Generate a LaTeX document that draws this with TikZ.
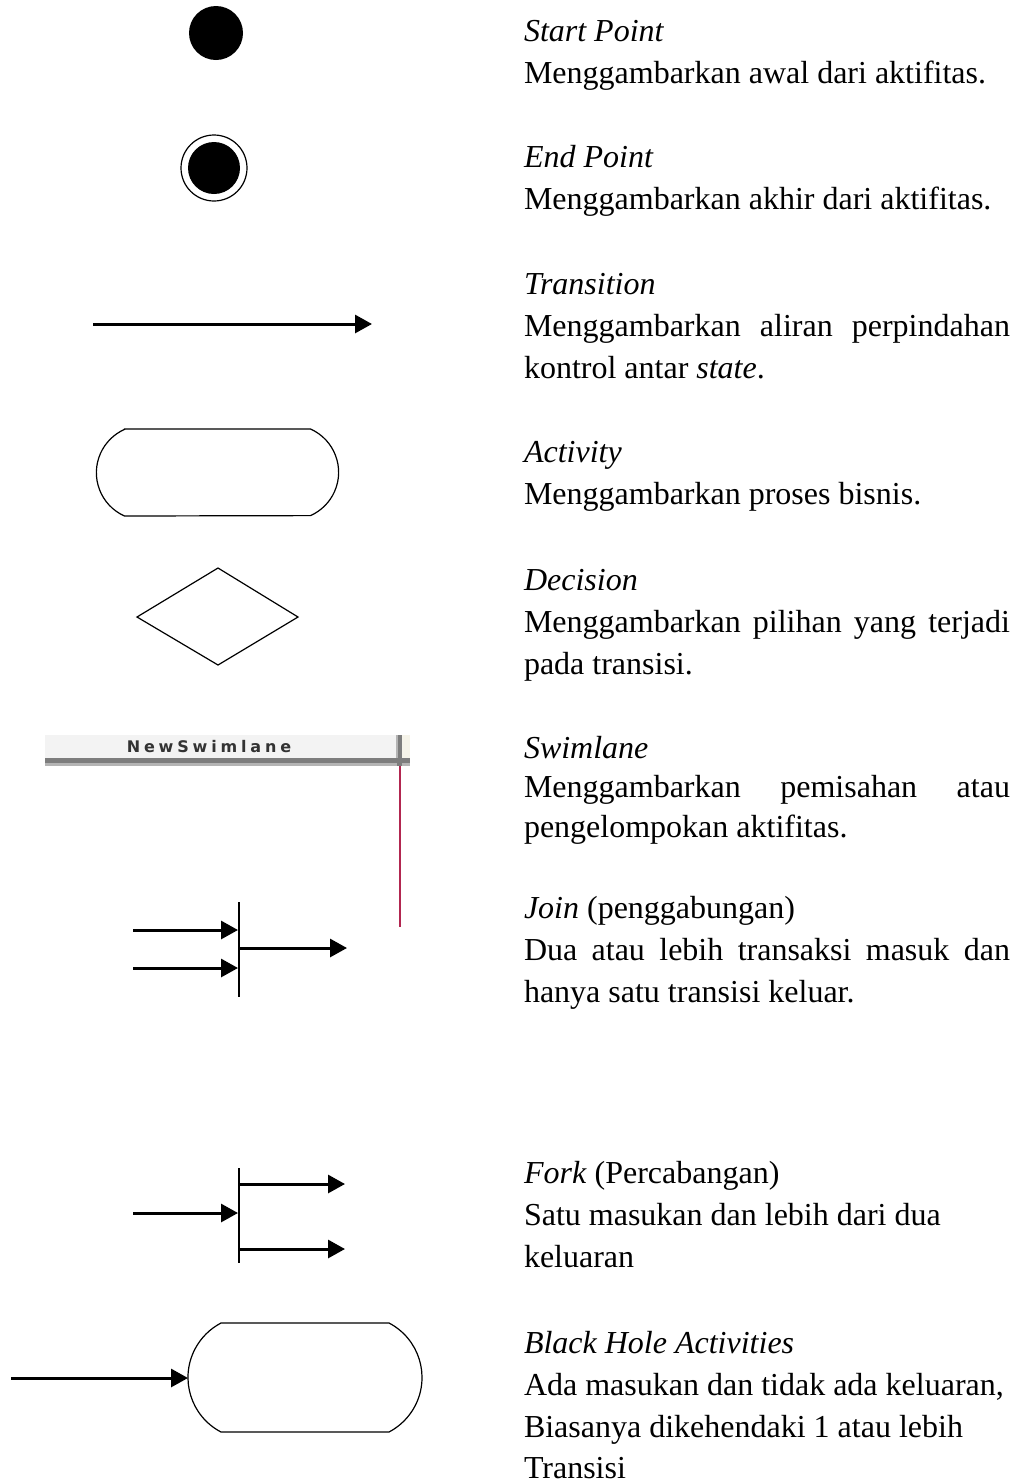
\documentclass[tikz,border=0pt]{standalone}
\usepackage{fontspec}
\setmainfont{Liberation Serif}
\newfontfamily\swfont[LetterSpace=24]{DejaVu Sans}
\usetikzlibrary{arrows.meta}
\definecolor{swbg}{RGB}{243,243,243}
\definecolor{swdark}{RGB}{125,125,125}
\definecolor{swlight}{RGB}{180,180,180}
\definecolor{swbeige}{RGB}{245,243,233}
\definecolor{lanered}{RGB}{178,38,80}
\newcommand{\jline}[1]{\makebox[243pt][s]{#1}}
\begin{document}
\begin{tikzpicture}[x=0.5pt,y=-0.5pt,
  txt/.style={anchor=base west, inner sep=0pt, outer sep=0pt, font=\fontsize{16}{21}\selectfont},
  flow/.style={line width=1.5pt, -{Triangle[length=8.5pt,width=9pt]}},
  thinline/.style={line width=0.6pt},
  barline/.style={line width=1.2pt},
]
\useasboundingbox (0,0) rectangle (1024,1484);

% ---------- Start point
\fill (216,33) circle[radius=27];
% ---------- End point
\draw[thinline] (214,168) circle[radius=33];
\fill (214,168) circle[radius=26];
% ---------- Transition
\coordinate (t1) at (93,324);
\coordinate (t2) at (372,324);
\draw[flow] (t1) -- (t2);
% ---------- Activity
\draw[thinline] (124.5,429) -- (310.5,429) arc[start angle=-66, end angle=66, radius=47.4]
  -- (124.5,516) arc[start angle=114, end angle=246, radius=47.4] -- cycle;
% ---------- Decision
\coordinate (dT) at (218,568);
\coordinate (dR) at (298,617);
\coordinate (dB) at (218,665);
\coordinate (dL) at (137,617);
\draw[thinline] (dT) -- (dR) -- (dB) -- (dL) -- cycle;
% ---------- Swimlane
\fill[swbg] (45,735) rectangle (397,758);
\fill[swbeige] (402,735) rectangle (410,758);
\fill[swdark] (45,758) rectangle (410,762.5);
\fill[swlight] (45,762.5) rectangle (410,766);
\fill[swdark] (397,735) rectangle (402,766);
\fill[swlight] (396,735) rectangle (397.5,758);
\node[font=\swfont\bfseries\fontsize{8}{9}\selectfont, text=black!80, inner sep=0pt] (swt) at (209,747) {NewSwimlane};
\coordinate (r1) at (399.5,766);
\coordinate (r2) at (399.5,927);
\draw[lanered, line width=1pt] (r1) -- (r2);
% ---------- Join
\coordinate (jb1) at (239,902);
\coordinate (jb2) at (239,997);
\draw[barline] (jb1) -- (jb2);
\coordinate (ji1) at (133,930);
\coordinate (ji1e) at (238,930);
\coordinate (ji2) at (133,968);
\coordinate (ji2e) at (238,968);
\coordinate (jo1) at (239,948);
\coordinate (jo1e) at (347,948);
\draw[flow] (ji1) -- (ji1e);
\draw[flow] (ji2) -- (ji2e);
\draw[flow] (jo1) -- (jo1e);
% ---------- Fork
\coordinate (fb1) at (239,1168);
\coordinate (fb2) at (239,1263);
\draw[barline] (fb1) -- (fb2);
\coordinate (fi1) at (133,1213);
\coordinate (fi1e) at (238,1213);
\coordinate (fo1) at (239,1184);
\coordinate (fo1e) at (345,1184);
\coordinate (fo2) at (239,1249);
\coordinate (fo2e) at (345,1249);
\draw[flow] (fi1) -- (fi1e);
\draw[flow] (fo1) -- (fo1e);
\draw[flow] (fo2) -- (fo2e);
% ---------- Black hole
\draw[thinline] (221,1323) -- (389,1323) arc[start angle=-62.4, end angle=62.4, radius=61.5]
  -- (221,1432) arc[start angle=117.6, end angle=242.4, radius=61.5] -- cycle;
\coordinate (bh1) at (11,1378);
\coordinate (bh2) at (188,1378);
\draw[flow] (bh1) -- (bh2);

% ---------- Texts
\node[txt] (s1) at (524,41) {\textit{Start Point}};
\node[txt] (s2) at (524,83) {Menggambarkan awal dari aktifitas.};
\node[txt] (e1) at (524,167) {\textit{End Point}};
\node[txt] (e2) at (524,209) {Menggambarkan akhir dari aktifitas.};
\node[txt] (tr1) at (524,294) {\textit{Transition}};
\node[txt] (tr2) at (524,336) {\jline{Menggambarkan aliran perpindahan}};
\node[txt] (tr3) at (524,378) {kontrol antar \textit{state}.};
\node[txt] (a1) at (524,462) {\textit{Activity}};
\node[txt] (a2) at (524,504) {Menggambarkan proses bisnis.};
\node[txt] (d1) at (524,590) {\textit{Decision}};
\node[txt] (d2) at (524,632) {\jline{Menggambarkan pilihan yang terjadi}};
\node[txt] (d3) at (524,674) {pada transisi.};
\node[txt] (w1) at (524,758) {\textit{Swimlane}};
\node[txt] (w2) at (524,797) {\jline{Menggambarkan pemisahan atau}};
\node[txt] (w3) at (524,837) {pengelompokan aktifitas.};
\node[txt] (j1) at (524,918) {\textit{Join} (penggabungan)};
\node[txt] (j2) at (524,960) {\jline{Dua atau lebih transaksi masuk dan}};
\node[txt] (j3) at (524,1002) {hanya satu transisi keluar.};
\node[txt] (f1) at (524,1183) {\textit{Fork} (Percabangan)};
\node[txt] (f2) at (524,1225) {Satu masukan dan lebih dari dua};
\node[txt] (f3) at (524,1267) {keluaran};
\node[txt] (b1) at (524,1353) {\textit{Black Hole Activities}};
\node[txt] (b2) at (524,1395) {Ada masukan dan tidak ada keluaran,};
\node[txt] (b3) at (524,1437) {Biasanya dikehendaki 1 atau lebih};
\node[txt] (b4) at (524,1478) {Transisi};
\end{tikzpicture}
\end{document}
